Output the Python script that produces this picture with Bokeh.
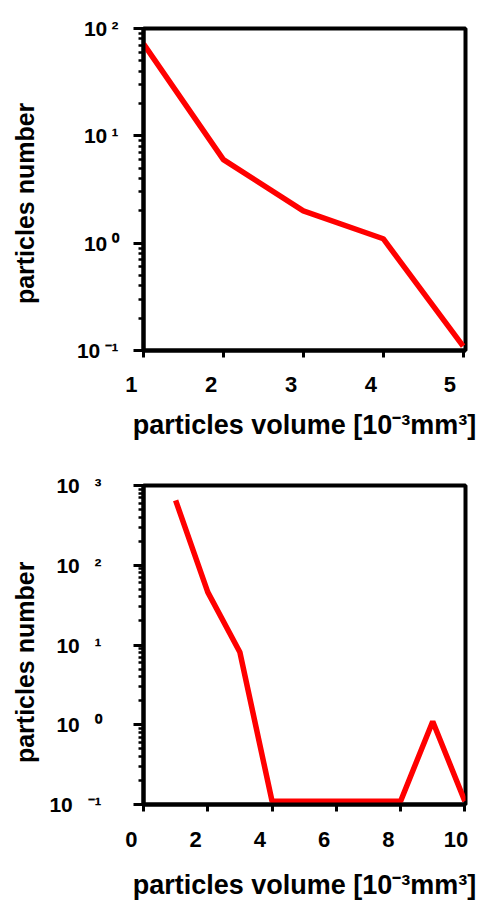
from bokeh.plotting import figure
from bokeh.layouts import column
from bokeh.models import FixedTicker, Range1d
from bokeh.embed import file_html
from bokeh.resources import INLINE

# ---------------- data ----------------
top_volume = [1, 2, 3, 4, 5]
top_count = [72, 6.0, 2.0, 1.1, 0.11]

bottom_volume = [1, 2, 3, 4, 5, 6, 7, 8, 9, 10]
bottom_count = [650, 46, 8.1, 0.11, 0.11, 0.11, 0.11, 0.11, 1.1, 0.11]

top_xticks = [1, 2, 3, 4, 5]
bottom_xticks = [0, 2, 4, 6, 8, 10]
top_ydecades = [-1, 0, 1, 2]
bottom_ydecades = [-1, 0, 1, 2, 3]

x_title = "particles volume [10⁻³mm³]"
y_title = "particles number"

FONT = "Liberation Sans"
SUP = {"-": "⁻", "0": "⁰", "1": "¹", "2": "²", "3": "³"}
NBSP = "\u00a0"


def sup(d):
    return "".join(SUP[c] for c in str(d))


def make_panel(xs, ys, xticks, decades, xr, h, borders, gap, ylab_standoff,
               xlab_standoff, title_standoff, ytitle_standoff, ytitle_pad):
    left, right, top, bottom = borders
    p = figure(width=480, height=h, output_backend="svg", toolbar_location=None,
               x_range=Range1d(*xr), y_range=Range1d(10.0 ** decades[0], 10.0 ** decades[-1]),
               y_axis_type="log",
               min_border_left=left, min_border_right=right,
               min_border_top=top, min_border_bottom=bottom)
    p.background_fill_color = "white"
    p.border_fill_color = "white"
    p.outline_line_color = "black"
    p.outline_line_width = 4
    p.outline_line_alpha = 1
    p.xgrid.visible = False
    p.ygrid.visible = False

    for ax in (p.xaxis[0], p.yaxis[0]):
        ax.axis_line_width = 4
        ax.axis_line_color = "black"
        ax.major_tick_line_color = "black"
        ax.minor_tick_line_color = "black"
        ax.major_tick_in = 0
        ax.minor_tick_in = 0
        ax.major_label_text_font = FONT
        ax.major_label_text_font_style = "bold"
        ax.major_label_text_color = "black"
        ax.axis_label_text_font = FONT
        ax.axis_label_text_font_style = "bold"
        ax.axis_label_text_color = "black"

    # x axis
    p.xaxis.ticker = FixedTicker(ticks=xticks)
    p.xaxis.major_label_overrides = {
        t: str(t) + NBSP * (4 if len(str(t)) == 1 else 2) for t in xticks}
    p.xaxis.major_label_text_font_size = "22px"
    p.xaxis.major_label_standoff = xlab_standoff
    p.xaxis.major_tick_out = 7
    p.xaxis.minor_tick_out = 0
    p.xaxis.major_tick_line_width = 3
    p.xaxis.axis_label = x_title
    p.xaxis.axis_label_text_font_size = "27px"
    p.xaxis.axis_label_standoff = title_standoff

    # y axis (log)
    p.yaxis.ticker = FixedTicker(ticks=[10.0 ** d for d in decades],
                                 minor_ticks=[m * 10.0 ** d for d in decades[:-1]
                                              for m in range(2, 10)])
    p.yaxis.major_label_overrides = {10.0 ** d: "10" + gap + sup(d) for d in decades}
    p.yaxis.major_label_text_font_size = "21px"
    p.yaxis.major_label_standoff = ylab_standoff
    p.yaxis.major_tick_out = 10
    p.yaxis.minor_tick_out = 5
    p.yaxis.major_tick_line_width = 3
    p.yaxis.minor_tick_line_width = 2.5
    p.yaxis.axis_label = y_title + NBSP * ytitle_pad
    p.yaxis.axis_label_text_font_size = "25px"
    p.yaxis.axis_label_standoff = ytitle_standoff

    p.line(xs, ys, line_color="#ff0000", line_width=5.5)
    return p


p1 = make_panel(top_volume, top_count, top_xticks, top_ydecades, (1, 5.03), 450,
                (138, 15, 28, 100), "\u2009", 15, 14, 10, 35, 4)
p2 = make_panel(bottom_volume, bottom_count, bottom_xticks, bottom_ydecades, (0, 10.02), 452,
                (143, 10, 35, 92), "\u2002\u2009", 32, 15, 15, 7, 5)

layout = column(p1, p2, spacing=0)
open("out.html", "w").write(file_html(layout, INLINE))
